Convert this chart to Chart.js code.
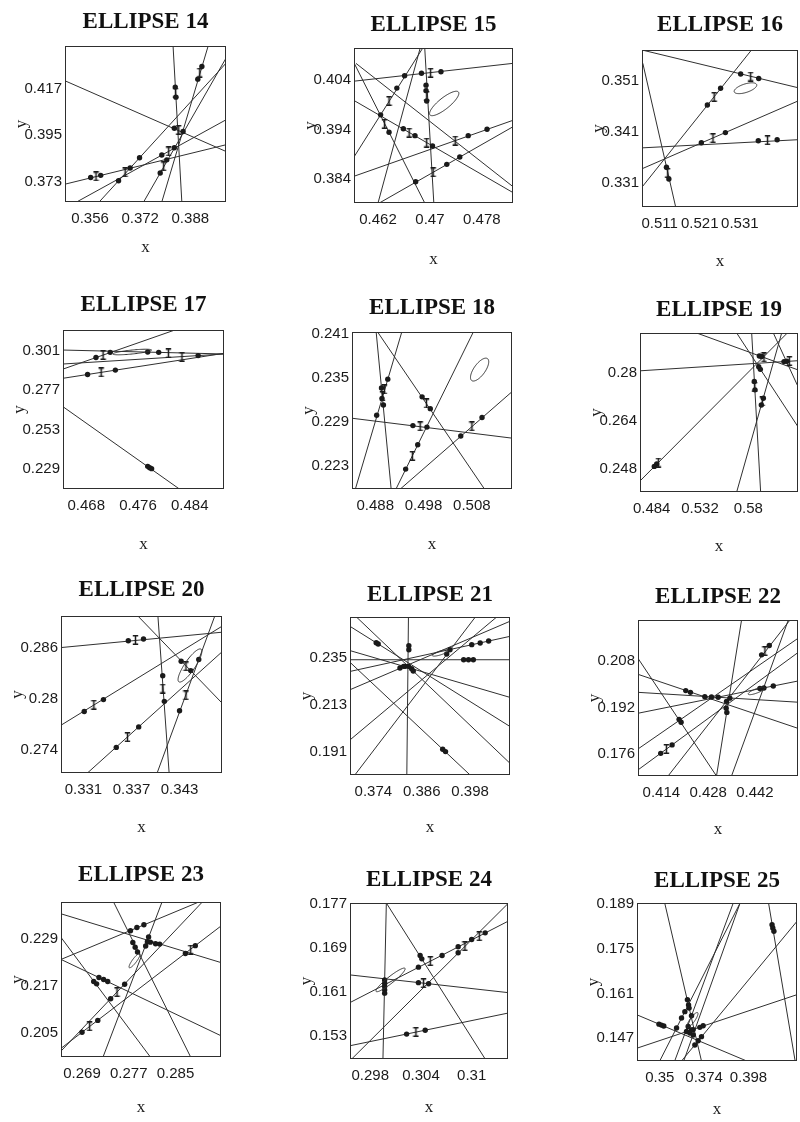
<!DOCTYPE html>
<html>
<head>
<meta charset="utf-8">
<script src="https://cdn.jsdelivr.net/npm/chart.js@4.4.0/dist/chart.umd.min.js"></script>
<style>
  html, body { margin: 0; padding: 0; background: #fff; overflow: hidden; }
  #sheet { position: relative; width: 800px; height: 1122px; overflow: hidden; background: #fff; }
  #sheet canvas { position: absolute; }
</style>
</head>
<body>
<div id="sheet"></div>
<script>
// ---------------------------------------------------------------------------
// Panel data. Lines are [x1, y1, x2, y2] segments across each plot window,
// dots and error-bar marks are [x, y], ellipses are [cx, cy, ux, uy, vx, vy]
// (centre plus the ends of two conjugate half-axes).
// ---------------------------------------------------------------------------

const panelTitles = ['ELLIPSE 14', 'ELLIPSE 15', 'ELLIPSE 16', 'ELLIPSE 17', 'ELLIPSE 18', 'ELLIPSE 19',
                     'ELLIPSE 20', 'ELLIPSE 21', 'ELLIPSE 22', 'ELLIPSE 23', 'ELLIPSE 24', 'ELLIPSE 25'];

// ELLIPSE 14
const e14XRange = [0.3480, 0.3994];
const e14YRange = [0.3632, 0.4376];
const e14XTicks = [0.356, 0.372, 0.388];
const e14YTicks = [0.373, 0.395, 0.417];
const e14Lines = [
  [0.3480, 0.4210, 0.3994, 0.3873],
  [0.3825, 0.4376, 0.3853, 0.3632],
  [0.3937, 0.4376, 0.3789, 0.3632],
  [0.3731, 0.3632, 0.3994, 0.4318],
  [0.3589, 0.3632, 0.3994, 0.4294],
  [0.3517, 0.3632, 0.3994, 0.4024],
  [0.3480, 0.3717, 0.3994, 0.3905]
];
const e14Dots = [
  [0.3832, 0.4180], [0.3834, 0.4132], [0.3917, 0.4278], [0.3904, 0.4218],
  [0.3784, 0.3770], [0.3805, 0.3833], [0.3651, 0.3733], [0.3688, 0.3794],
  [0.3718, 0.3843], [0.3789, 0.3856], [0.3829, 0.3891], [0.3562, 0.3749],
  [0.3594, 0.3759], [0.3829, 0.3984], [0.3857, 0.3968]
];
const e14Bars = [
  [0.3833, 0.4154], [0.3910, 0.4249], [0.3795, 0.3802], [0.3672, 0.3773],
  [0.3811, 0.3873], [0.3579, 0.3754], [0.3843, 0.3976]
];
const e14Ellipse = null;

// ELLIPSE 15
const e15XRange = [0.4583, 0.4828];
const e15YRange = [0.3792, 0.4105];
const e15XTicks = [0.462, 0.47, 0.478];
const e15YTicks = [0.384, 0.394, 0.404];
const e15Lines = [
  [0.4583, 0.4038, 0.4828, 0.4074],
  [0.4583, 0.4075, 0.4692, 0.3792],
  [0.4583, 0.3999, 0.4828, 0.3813],
  [0.4586, 0.4074, 0.4828, 0.3825],
  [0.4583, 0.3885, 0.4689, 0.4105],
  [0.4620, 0.3792, 0.4685, 0.4105],
  [0.4692, 0.4105, 0.4706, 0.3792],
  [0.4583, 0.3846, 0.4828, 0.3959],
  [0.4622, 0.3792, 0.4828, 0.3946]
];
const e15Dots = [
  [0.4687, 0.4054], [0.4717, 0.4057], [0.4624, 0.3970], [0.4637, 0.3935],
  [0.4659, 0.3942], [0.4677, 0.3928], [0.4704, 0.3907], [0.4649, 0.4024],
  [0.4661, 0.4049], [0.4694, 0.4030], [0.4694, 0.4019], [0.4695, 0.3998],
  [0.4759, 0.3928], [0.4788, 0.3941], [0.4678, 0.3835], [0.4726, 0.3870],
  [0.4746, 0.3885]
];
const e15Bars = [
  [0.4701, 0.4055], [0.4630, 0.3952], [0.4668, 0.3934], [0.4695, 0.3914],
  [0.4637, 0.3998], [0.4695, 0.4008], [0.4739, 0.3918], [0.4705, 0.3854]
];
const e15Ellipse = [0.4722, 0.3993, 0.4744, 0.4016, 0.4727, 0.3984];

// ELLIPSE 16
const e16XRange = [0.5066, 0.5455];
const e16YRange = [0.3263, 0.3571];
const e16XTicks = [0.511, 0.521, 0.531];
const e16YTicks = [0.331, 0.341, 0.351];
const e16Lines = [
  [0.5066, 0.3571, 0.5455, 0.3497],
  [0.5068, 0.3545, 0.5150, 0.3263],
  [0.5066, 0.3302, 0.5339, 0.3571],
  [0.5066, 0.3338, 0.5455, 0.3471],
  [0.5066, 0.3379, 0.5455, 0.3395]
];
const e16Dots = [
  [0.5312, 0.3524], [0.5357, 0.3515], [0.5127, 0.3341], [0.5133, 0.3318],
  [0.5229, 0.3463], [0.5262, 0.3496], [0.5214, 0.3389], [0.5274, 0.3409],
  [0.5356, 0.3393], [0.5403, 0.3395]
];
const e16Bars = [
  [0.5337, 0.3519], [0.5130, 0.3330], [0.5246, 0.3479], [0.5243, 0.3398], [0.5379, 0.3394]
];
const e16Ellipse = [0.5324, 0.3496, 0.5352, 0.3503, 0.5327, 0.3488];

// ELLIPSE 17
const e17XRange = [0.4644, 0.4893];
const e17YRange = [0.2168, 0.3136];
const e17XTicks = [0.468, 0.476, 0.484];
const e17YTicks = [0.229, 0.253, 0.277, 0.301];
const e17Lines = [
  [0.4644, 0.3014, 0.4893, 0.2990],
  [0.4644, 0.2898, 0.4817, 0.3136],
  [0.4644, 0.2929, 0.4893, 0.2990],
  [0.4644, 0.2842, 0.4893, 0.2994],
  [0.4644, 0.2669, 0.4824, 0.2168]
];
const e17Dots = [
  [0.4695, 0.2969], [0.4717, 0.3000], [0.4853, 0.2980], [0.4775, 0.3002],
  [0.4792, 0.3000], [0.4682, 0.2865], [0.4725, 0.2892], [0.4775, 0.2306],
  [0.4778, 0.2298], [0.4781, 0.2292]
];
const e17Bars = [
  [0.4706, 0.2984], [0.4828, 0.2973], [0.4807, 0.2994], [0.4703, 0.2878]
];
const e17Ellipse = [0.4751, 0.3002, 0.4781, 0.3014, 0.4751, 0.2990];

// ELLIPSE 18
const e18XRange = [0.4832, 0.5163];
const e18YRange = [0.2199, 0.2412];
const e18XTicks = [0.488, 0.498, 0.508];
const e18YTicks = [0.223, 0.229, 0.235, 0.241];
const e18Lines = [
  [0.4882, 0.2412, 0.4913, 0.2199],
  [0.4839, 0.2199, 0.4935, 0.2412],
  [0.4885, 0.2412, 0.5106, 0.2199],
  [0.4832, 0.2295, 0.5163, 0.2268],
  [0.4923, 0.2199, 0.5083, 0.2412],
  [0.4932, 0.2199, 0.5163, 0.2331]
];
const e18Dots = [
  [0.4893, 0.2336], [0.4897, 0.2313], [0.4883, 0.2299], [0.4894, 0.2322],
  [0.4906, 0.2348], [0.4977, 0.2324], [0.4994, 0.2308], [0.4958, 0.2285],
  [0.4987, 0.2283], [0.4943, 0.2226], [0.4968, 0.2259], [0.5057, 0.2271],
  [0.5101, 0.2296]
];
const e18Bars = [
  [0.4895, 0.2325], [0.4899, 0.2334], [0.4986, 0.2315], [0.4973, 0.2284],
  [0.4957, 0.2244], [0.5080, 0.2284]
];
const e18Ellipse = [0.5096, 0.2361, 0.5112, 0.2376, 0.5106, 0.2357];

// ELLIPSE 19
const e19XRange = [0.4724, 0.6293];
const e19YRange = [0.2401, 0.2935];
const e19XTicks = [0.484, 0.532, 0.58];
const e19YTicks = [0.248, 0.264, 0.28];
const e19Lines = [
  [0.4724, 0.2808, 0.6293, 0.2842],
  [0.4724, 0.2438, 0.6187, 0.2935],
  [0.5287, 0.2935, 0.6293, 0.2811],
  [0.5684, 0.2935, 0.6293, 0.2620],
  [0.5833, 0.2935, 0.5922, 0.2401],
  [0.5684, 0.2401, 0.6131, 0.2935],
  [0.6048, 0.2935, 0.6293, 0.2755]
];
const e19Dots = [
  [0.6154, 0.2839], [0.6181, 0.2840], [0.4866, 0.2487], [0.4890, 0.2495],
  [0.5909, 0.2858], [0.5932, 0.2856], [0.5903, 0.2822], [0.5919, 0.2813],
  [0.5859, 0.2772], [0.5866, 0.2744], [0.5929, 0.2693], [0.5949, 0.2716]
];
const e19Bars = [
  [0.6207, 0.2841], [0.4906, 0.2500], [0.5955, 0.2853], [0.5863, 0.2755], [0.5939, 0.2705]
];
const e19Ellipse = null;

// ELLIPSE 20
const e20XRange = [0.3282, 0.3483];
const e20YRange = [0.2713, 0.2897];
const e20XTicks = [0.331, 0.337, 0.343];
const e20YTicks = [0.274, 0.28, 0.286];
const e20Lines = [
  [0.3282, 0.2860, 0.3483, 0.2878],
  [0.3378, 0.2897, 0.3483, 0.2795],
  [0.3403, 0.2897, 0.3417, 0.2713],
  [0.3282, 0.2769, 0.3483, 0.2885],
  [0.3315, 0.2713, 0.3483, 0.2855],
  [0.3402, 0.2713, 0.3474, 0.2897]
];
const e20Dots = [
  [0.3366, 0.2868], [0.3385, 0.2870], [0.3432, 0.2844], [0.3444, 0.2833],
  [0.3409, 0.2827], [0.3411, 0.2797], [0.3311, 0.2785], [0.3335, 0.2799],
  [0.3351, 0.2743], [0.3379, 0.2767], [0.3430, 0.2786], [0.3454, 0.2846]
];
const e20Bars = [
  [0.3375, 0.2869], [0.3438, 0.2838], [0.3409, 0.2812], [0.3323, 0.2793],
  [0.3365, 0.2755], [0.3438, 0.2804]
];
const e20Ellipse = [0.3443, 0.2839, 0.3457, 0.2858, 0.3448, 0.2835];

// ELLIPSE 21
const e21XRange = [0.3682, 0.4079];
const e21YRange = [0.1800, 0.2543];
const e21XTicks = [0.374, 0.386, 0.398];
const e21YTicks = [0.191, 0.213, 0.235];
const e21Lines = [
  [0.3682, 0.2499, 0.4079, 0.2028],
  [0.3682, 0.2330, 0.3980, 0.1800],
  [0.3827, 0.2543, 0.3823, 0.1800],
  [0.3682, 0.2342, 0.4079, 0.2342],
  [0.3682, 0.2287, 0.4079, 0.2452],
  [0.3682, 0.2201, 0.4079, 0.2523],
  [0.3682, 0.1965, 0.4046, 0.2543],
  [0.3694, 0.1800, 0.3993, 0.2543],
  [0.3682, 0.2385, 0.4079, 0.2165],
  [0.3698, 0.2543, 0.4079, 0.1855]
];
const e21Dots = [
  [0.3747, 0.2422], [0.3752, 0.2416], [0.3912, 0.1921], [0.3919, 0.1910],
  [0.3828, 0.2408], [0.3828, 0.2389], [0.3964, 0.2342], [0.3976, 0.2342],
  [0.3988, 0.2342], [0.3984, 0.2413], [0.4005, 0.2421], [0.4026, 0.2430],
  [0.3806, 0.2303], [0.3819, 0.2311], [0.3922, 0.2369], [0.3930, 0.2389],
  [0.3815, 0.2311], [0.3835, 0.2300], [0.3827, 0.2311], [0.3839, 0.2289]
];
const e21Bars = [];
const e21Ellipse = [0.3906, 0.2374, 0.3926, 0.2386, 0.3907, 0.2365];

// ELLIPSE 22
const e22XRange = [0.4070, 0.4549];
const e22YRange = [0.1684, 0.2221];
const e22XTicks = [0.414, 0.428, 0.442];
const e22YTicks = [0.176, 0.192, 0.208];
const e22Lines = [
  [0.4070, 0.2089, 0.4305, 0.1684],
  [0.4070, 0.2034, 0.4549, 0.1848],
  [0.4070, 0.1972, 0.4549, 0.1938],
  [0.4070, 0.1900, 0.4549, 0.2011],
  [0.4070, 0.1705, 0.4549, 0.2109],
  [0.4160, 0.1684, 0.4525, 0.2221],
  [0.4305, 0.1684, 0.4380, 0.2221],
  [0.4350, 0.1684, 0.4520, 0.2221],
  [0.4070, 0.1777, 0.4549, 0.2158]
];
const e22Dots = [
  [0.4193, 0.1879], [0.4199, 0.1869], [0.4213, 0.1978], [0.4227, 0.1972],
  [0.4270, 0.1957], [0.4290, 0.1956], [0.4310, 0.1955], [0.4345, 0.1952],
  [0.4435, 0.1985], [0.4447, 0.1987], [0.4475, 0.1994], [0.4138, 0.1762],
  [0.4172, 0.1791], [0.4440, 0.2101], [0.4463, 0.2133], [0.4335, 0.1941],
  [0.4334, 0.1917], [0.4336, 0.1903]
];
const e22Bars = [[0.4155, 0.1777], [0.4450, 0.2114]];
const e22Ellipse = [0.4425, 0.1977, 0.4450, 0.1988, 0.4427, 0.1970];

// ELLIPSE 23
const e23XRange = [0.2654, 0.2928];
const e23YRange = [0.1989, 0.2383];
const e23XTicks = [0.269, 0.277, 0.285];
const e23YTicks = [0.205, 0.217, 0.229];
const e23Lines = [
  [0.2654, 0.2353, 0.2928, 0.2229],
  [0.2654, 0.2293, 0.2807, 0.1989],
  [0.2654, 0.2237, 0.2890, 0.2383],
  [0.2654, 0.2237, 0.2928, 0.2043],
  [0.2654, 0.2011, 0.2928, 0.2322],
  [0.2654, 0.2004, 0.2896, 0.2383],
  [0.2744, 0.2383, 0.2876, 0.1989],
  [0.2827, 0.2383, 0.2726, 0.1989]
];
const e23Dots = [
  [0.2807, 0.2281], [0.2816, 0.2277], [0.2823, 0.2276], [0.2710, 0.2181],
  [0.2715, 0.2175], [0.2773, 0.2310], [0.2784, 0.2318], [0.2796, 0.2325],
  [0.2719, 0.2191], [0.2727, 0.2186], [0.2734, 0.2181], [0.2690, 0.2052],
  [0.2717, 0.2082], [0.2867, 0.2252], [0.2884, 0.2272], [0.2739, 0.2137],
  [0.2763, 0.2174], [0.2777, 0.2280], [0.2781, 0.2268], [0.2785, 0.2256],
  [0.2804, 0.2294], [0.2802, 0.2282], [0.2799, 0.2271]
];
const e23Bars = [[0.2703, 0.2067], [0.2876, 0.2262], [0.2750, 0.2154]];
const e23Ellipse = [0.2780, 0.2234, 0.2789, 0.2252, 0.2783, 0.2231];

// ELLIPSE 24
const e24XRange = [0.2956, 0.3143];
const e24YRange = [0.1489, 0.1771];
const e24XTicks = [0.298, 0.304, 0.31];
const e24YTicks = [0.153, 0.161, 0.169, 0.177];
const e24Lines = [
  [0.2999, 0.1771, 0.2995, 0.1489],
  [0.2999, 0.1771, 0.3116, 0.1489],
  [0.2956, 0.1641, 0.3143, 0.1609],
  [0.2956, 0.1591, 0.3143, 0.1738],
  [0.2958, 0.1489, 0.3143, 0.1770],
  [0.2956, 0.1513, 0.3143, 0.1572]
];
const e24Dots = [
  [0.2997, 0.1632], [0.2997, 0.1626], [0.2997, 0.1620], [0.2997, 0.1614],
  [0.2997, 0.1608], [0.3039, 0.1676], [0.3041, 0.1670], [0.3037, 0.1627],
  [0.3049, 0.1625], [0.3037, 0.1655], [0.3065, 0.1676], [0.3084, 0.1692],
  [0.3116, 0.1717], [0.3084, 0.1681], [0.3100, 0.1705], [0.3023, 0.1534],
  [0.3045, 0.1541]
];
const e24Bars = [
  [0.3043, 0.1626], [0.3051, 0.1666], [0.3109, 0.1711], [0.3092, 0.1693], [0.3034, 0.1538]
];
const e24Ellipse = [0.3004, 0.1632, 0.3021, 0.1653, 0.3007, 0.1628];

// ELLIPSE 25
const e25XRange = [0.3377, 0.4243];
const e25YRange = [0.1399, 0.1892];
const e25XTicks = [0.35, 0.374, 0.398];
const e25YTicks = [0.147, 0.161, 0.175, 0.189];
const e25Lines = [
  [0.3527, 0.1892, 0.3726, 0.1399],
  [0.4089, 0.1892, 0.4233, 0.1399],
  [0.3377, 0.1543, 0.3971, 0.1399],
  [0.3377, 0.1439, 0.4243, 0.1606],
  [0.3500, 0.1399, 0.3935, 0.1892],
  [0.3618, 0.1399, 0.4243, 0.1835],
  [0.3581, 0.1399, 0.3898, 0.1892],
  [0.3630, 0.1399, 0.3935, 0.1892]
];
const e25Dots = [
  [0.3650, 0.1590], [0.3656, 0.1574], [0.3659, 0.1564], [0.4108, 0.1824],
  [0.4112, 0.1814], [0.4118, 0.1804], [0.3496, 0.1514], [0.3509, 0.1511],
  [0.3522, 0.1508], [0.3681, 0.1497], [0.3717, 0.1504], [0.3735, 0.1509],
  [0.3591, 0.1502], [0.3618, 0.1533], [0.3636, 0.1553], [0.3690, 0.1449],
  [0.3708, 0.1462], [0.3726, 0.1475], [0.3672, 0.1540], [0.3645, 0.1491],
  [0.3663, 0.1486], [0.3681, 0.1480], [0.3654, 0.1507], [0.3672, 0.1496]
];
const e25Bars = [];
const e25Ellipse = [0.3677, 0.1527, 0.3705, 0.1550, 0.3688, 0.1523];

// ---------------------------------------------------------------------------
// Page layout: plot window of each panel on the sheet [left, top, right, bottom],
// gap from the window top to the title centre, gap from the window bottom
// to the "x" label centre.
// ---------------------------------------------------------------------------
const frames = [
  { box: [65, 46, 226, 202],    titleGap: 24, xGap: 46 },
  { box: [354, 48, 513, 203],   titleGap: 23, xGap: 57 },
  { box: [642, 50, 798, 207],   titleGap: 25, xGap: 55 },
  { box: [63, 330, 224, 489],   titleGap: 25, xGap: 56 },
  { box: [352, 332, 512, 489],  titleGap: 24, xGap: 56 },
  { box: [640, 333, 798, 492],  titleGap: 23, xGap: 55 },
  { box: [61, 616, 222, 773],   titleGap: 26, xGap: 55 },
  { box: [350, 617, 510, 775],  titleGap: 22, xGap: 53 },
  { box: [638, 620, 798, 776],  titleGap: 23, xGap: 54 },
  { box: [61, 902, 221, 1057],  titleGap: 27, xGap: 51 },
  { box: [350, 903, 508, 1059], titleGap: 23, xGap: 49 },
  { box: [637, 903, 797, 1061], titleGap: 22, xGap: 49 }
];

const panelData = [
  [e14XRange, e14YRange, e14XTicks, e14YTicks, e14Lines, e14Dots, e14Bars, e14Ellipse],
  [e15XRange, e15YRange, e15XTicks, e15YTicks, e15Lines, e15Dots, e15Bars, e15Ellipse],
  [e16XRange, e16YRange, e16XTicks, e16YTicks, e16Lines, e16Dots, e16Bars, e16Ellipse],
  [e17XRange, e17YRange, e17XTicks, e17YTicks, e17Lines, e17Dots, e17Bars, e17Ellipse],
  [e18XRange, e18YRange, e18XTicks, e18YTicks, e18Lines, e18Dots, e18Bars, e18Ellipse],
  [e19XRange, e19YRange, e19XTicks, e19YTicks, e19Lines, e19Dots, e19Bars, e19Ellipse],
  [e20XRange, e20YRange, e20XTicks, e20YTicks, e20Lines, e20Dots, e20Bars, e20Ellipse],
  [e21XRange, e21YRange, e21XTicks, e21YTicks, e21Lines, e21Dots, e21Bars, e21Ellipse],
  [e22XRange, e22YRange, e22XTicks, e22YTicks, e22Lines, e22Dots, e22Bars, e22Ellipse],
  [e23XRange, e23YRange, e23XTicks, e23YTicks, e23Lines, e23Dots, e23Bars, e23Ellipse],
  [e24XRange, e24YRange, e24XTicks, e24YTicks, e24Lines, e24Dots, e24Bars, e24Ellipse],
  [e25XRange, e25YRange, e25XTicks, e25YTicks, e25Lines, e25Dots, e25Bars, e25Ellipse]
];

// ---------------------------------------------------------------------------
// Drawing
// ---------------------------------------------------------------------------
const AXIS_W = 62;     // room for y tick labels and the y label (mirrored on the right)
const TITLE_H = 50;    // room above the plot window for the panel title
const XAXIS_H = 72;    // room below the plot window for x ticks and the x label

const INK = '#1a1a1a';
const LINE_INK = '#303030';
const SANS = '"Liberation Sans", Arial, Helvetica, sans-serif';
const SERIF = '"Liberation Serif", "Times New Roman", Times, serif';

// Error-bar glyph used as a point style: a short vertical bar with caps.
function makeBarGlyph() {
  const c = document.createElement('canvas');
  c.width = 7; c.height = 10;
  const g = c.getContext('2d');
  g.strokeStyle = INK;
  g.lineWidth = 1.5;
  g.beginPath();
  g.moveTo(3.5, 0.5); g.lineTo(3.5, 9.5);
  g.moveTo(0.8, 0.8); g.lineTo(6.2, 0.8);
  g.moveTo(0.8, 9.2); g.lineTo(6.2, 9.2);
  g.stroke();
  return c;
}
const barGlyph = makeBarGlyph();

// Frame around the plot window.
const windowFrame = {
  id: 'windowFrame',
  afterDatasetsDraw(chart) {
    const { ctx, chartArea: a } = chart;
    ctx.save();
    ctx.strokeStyle = '#2e2e2e';
    ctx.lineWidth = 1;
    ctx.strokeRect(Math.round(a.left) + 0.5, Math.round(a.top) + 0.5,
                   Math.round(a.right - a.left) - 1, Math.round(a.bottom - a.top) - 1);
    ctx.restore();
  }
};

// Outline of a confidence ellipse given by centre and two conjugate half-axes.
const ellipseRing = {
  id: 'ellipseRing',
  afterDatasetsDraw(chart, args, opts) {
    const e = opts && opts.shape;
    if (!e) return;
    const xs = chart.scales.x, ys = chart.scales.y;
    const cx = xs.getPixelForValue(e[0]), cy = ys.getPixelForValue(e[1]);
    const ux = xs.getPixelForValue(e[2]) - cx, uy = ys.getPixelForValue(e[3]) - cy;
    const vx = xs.getPixelForValue(e[4]) - cx, vy = ys.getPixelForValue(e[5]) - cy;
    const { ctx, chartArea: a } = chart;
    ctx.save();
    ctx.beginPath();
    ctx.rect(a.left, a.top, a.right - a.left, a.bottom - a.top);
    ctx.clip();
    ctx.strokeStyle = LINE_INK;
    ctx.lineWidth = 1;
    ctx.beginPath();
    const steps = 96;
    for (let i = 0; i <= steps; i++) {
      const t = (i / steps) * Math.PI * 2;
      const px = cx + ux * Math.cos(t) + vx * Math.sin(t);
      const py = cy + uy * Math.cos(t) + vy * Math.sin(t);
      if (i === 0) ctx.moveTo(px, py); else ctx.lineTo(px, py);
    }
    ctx.stroke();
    ctx.restore();
  }
};

const sheet = document.getElementById('sheet');

panelTitles.forEach((title, i) => {
  const [xRange, yRange, xTicks, yTicks, lines, dots, bars, ellipse] = panelData[i];
  const f = frames[i];
  const [bl, bt, br, bb] = f.box;
  const width = (br - bl) + AXIS_W * 2;
  const height = (bb - bt) + TITLE_H + XAXIS_H;

  const canvas = document.createElement('canvas');
  canvas.width = width;
  canvas.height = height;
  canvas.style.left = (bl - AXIS_W) + 'px';
  canvas.style.top = (bt - TITLE_H) + 'px';
  canvas.style.width = width + 'px';
  canvas.style.height = height + 'px';
  sheet.appendChild(canvas);

  const titleFontSize = 23;
  const titleLine = titleFontSize * 1.2;
  const titleTop = TITLE_H - f.titleGap - titleLine / 2;
  const titleBottom = TITLE_H - titleLine - titleTop;

  const xLabelSize = 17;
  const xLabelBottom = XAXIS_H - xLabelSize * 1.2 / 2 - f.xGap;

  const datasets = [];
  lines.forEach(l => {
    datasets.push({
      type: 'line',
      data: [{ x: l[0], y: l[1] }, { x: l[2], y: l[3] }],
      borderColor: LINE_INK,
      borderWidth: 1,
      pointRadius: 0,
      showLine: true,
      fill: false,
      tension: 0,
      order: 2
    });
  });
  datasets.push({
    type: 'scatter',
    data: dots.map(p => ({ x: p[0], y: p[1] })),
    pointStyle: 'circle',
    pointRadius: 2.7,
    backgroundColor: INK,
    borderColor: INK,
    borderWidth: 0,
    order: 1
  });
  datasets.push({
    type: 'scatter',
    data: bars.map(p => ({ x: p[0], y: p[1] })),
    pointStyle: barGlyph,
    pointRadius: 4,
    order: 0
  });

  new Chart(canvas, {
    type: 'scatter',
    data: { datasets },
    options: {
      responsive: false,
      animation: false,
      events: [],
      devicePixelRatio: 1,
      layout: { padding: 0 },
      plugins: {
        legend: { display: false },
        tooltip: { enabled: false },
        title: {
          display: true,
          text: title,
          color: '#111',
          font: { family: SERIF, size: titleFontSize, weight: 'bold' },
          padding: { top: titleTop, bottom: titleBottom }
        },
        ellipseRing: { shape: ellipse }
      },
      scales: {
        x: {
          type: 'linear',
          position: 'bottom',
          min: xRange[0],
          max: xRange[1],
          afterBuildTicks: s => { s.ticks = xTicks.map(v => ({ value: v })); },
          afterFit: s => { s.height = XAXIS_H; },
          grid: { display: false, drawTicks: false },
          border: { display: false },
          ticks: {
            color: INK,
            font: { family: SANS, size: 15 },
            padding: 8,
            autoSkip: false,
            maxRotation: 0,
            callback: v => String(v)
          },
          title: {
            display: true,
            text: 'x',
            color: INK,
            font: { family: SERIF, size: xLabelSize },
            padding: { top: 0, bottom: xLabelBottom }
          }
        },
        y: {
          type: 'linear',
          position: 'left',
          min: yRange[0],
          max: yRange[1],
          afterBuildTicks: s => { s.ticks = yTicks.map(v => ({ value: v })); },
          afterFit: s => { s.width = AXIS_W; },
          grid: { display: false, drawTicks: false },
          border: { display: false },
          ticks: {
            color: INK,
            font: { family: SANS, size: 15 },
            padding: 3,
            autoSkip: false,
            callback: v => String(v)
          },
          title: {
            display: true,
            text: 'y',
            color: INK,
            font: { family: SERIF, size: 17 },
            padding: { top: 8, bottom: 0 }
          }
        },
        yMirror: {
          type: 'linear',
          position: 'right',
          min: yRange[0],
          max: yRange[1],
          afterFit: s => { s.width = AXIS_W; },
          grid: { display: false, drawTicks: false },
          border: { display: false },
          ticks: { display: false }
        }
      }
    },
    plugins: [windowFrame, ellipseRing]
  });
});
</script>
</body>
</html>
